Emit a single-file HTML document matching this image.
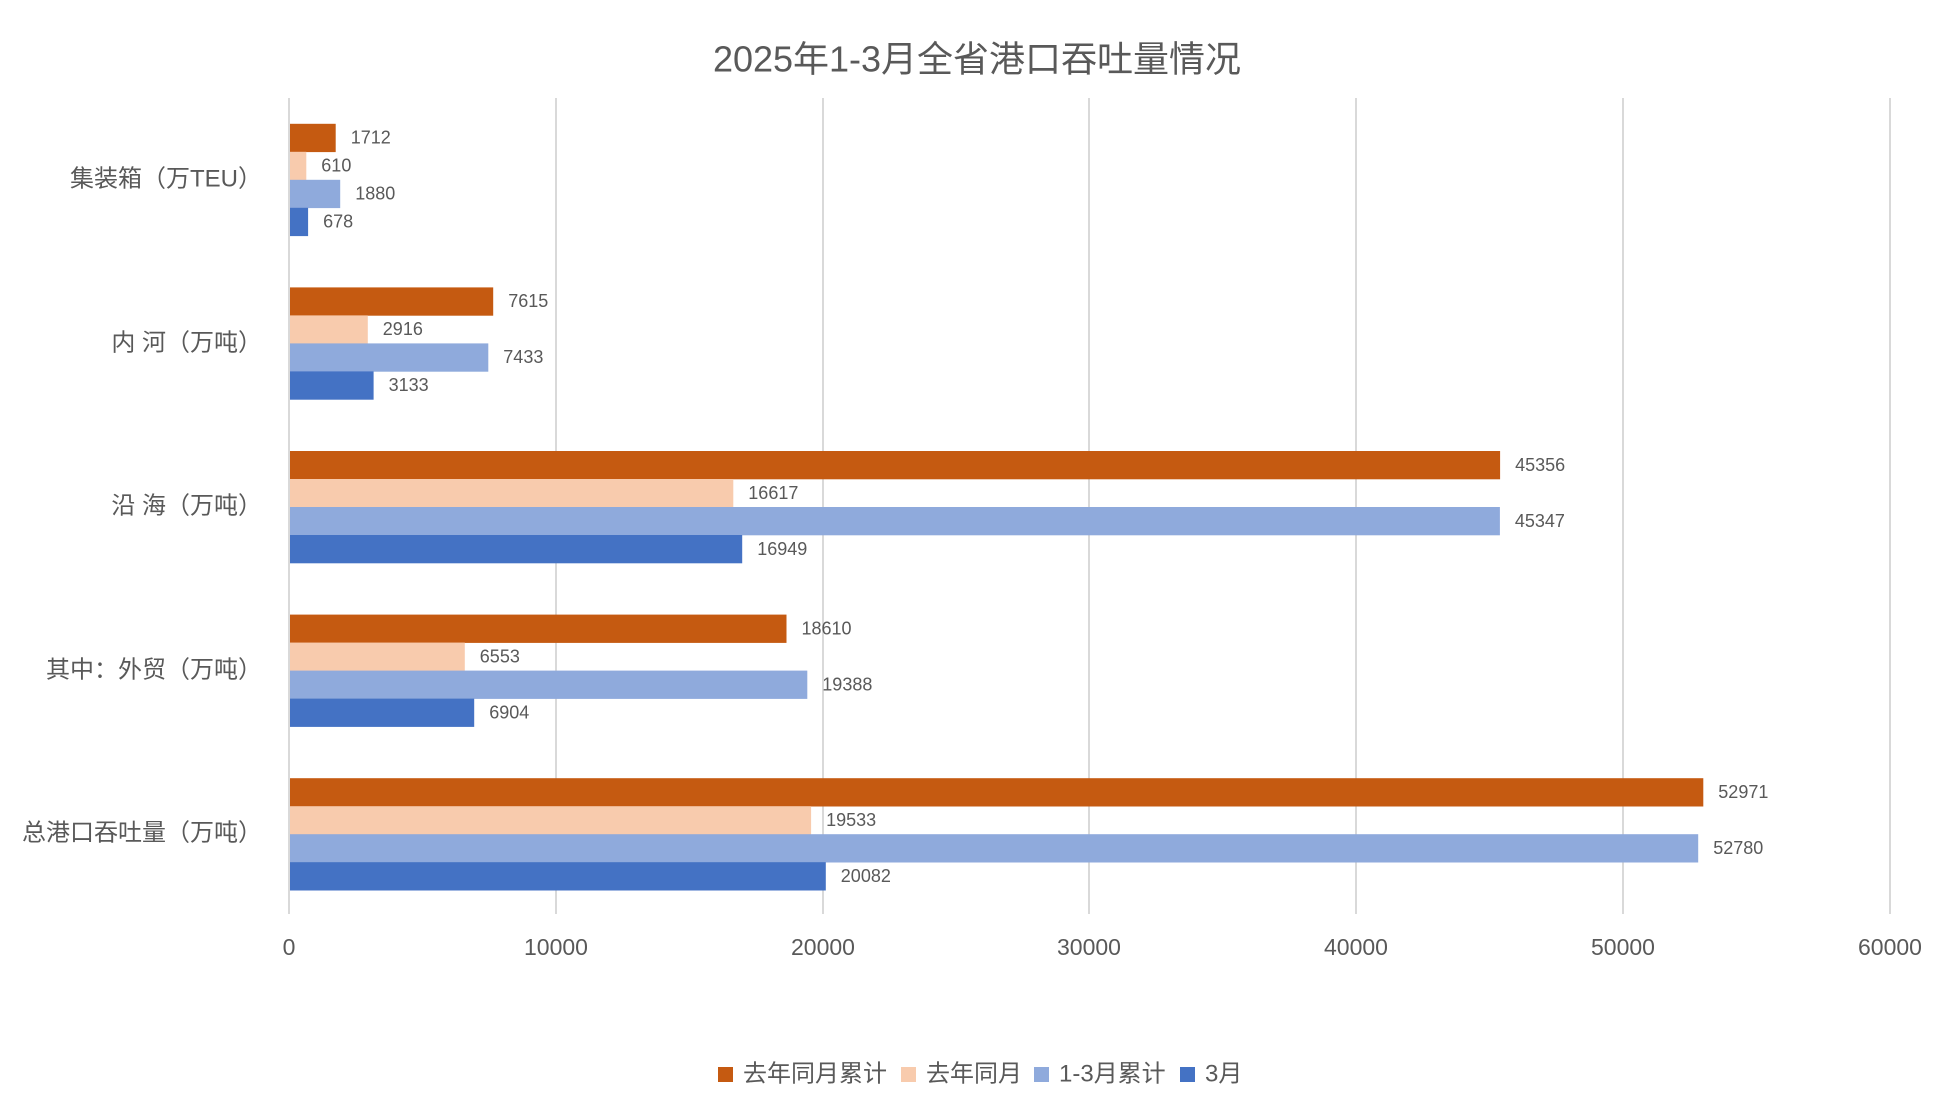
<!DOCTYPE html>
<html><head><meta charset="utf-8"><style>
html,body{margin:0;padding:0;background:#fff;}
svg{display:block;}
text{font-family:"Liberation Sans","Noto Sans CJK SC",sans-serif;fill:#595959;}
</style></head><body>
<svg width="1957" height="1109" xmlns="http://www.w3.org/2000/svg">
<rect width="1957" height="1109" fill="#fff"/>
<text x="977" y="62" font-size="36" text-anchor="middle" dominant-baseline="middle">2025年1-3月全省港口吞吐量情况</text>
<g stroke="#d9d9d9" stroke-width="2">
<line x1="289" y1="98" x2="289" y2="914"/>
<line x1="556" y1="98" x2="556" y2="914"/>
<line x1="823" y1="98" x2="823" y2="914"/>
<line x1="1089" y1="98" x2="1089" y2="914"/>
<line x1="1356" y1="98" x2="1356" y2="914"/>
<line x1="1623" y1="98" x2="1623" y2="914"/>
<line x1="1890" y1="98" x2="1890" y2="914"/>
</g>
<g font-size="23" text-anchor="middle" dominant-baseline="middle">
<text x="289" y="949">0</text><text x="556" y="949">10000</text><text x="823" y="949">20000</text>
<text x="1089" y="949">30000</text><text x="1356" y="949">40000</text><text x="1623" y="949">50000</text><text x="1890" y="949">60000</text>
</g>
<g font-size="24" text-anchor="end" dominant-baseline="middle">
<text x="262" y="180">集装箱（万TEU）</text>
<text x="262" y="344">内 河（万吨）</text>
<text x="262" y="507">沿 海（万吨）</text>
<text x="262" y="671">其中：外贸（万吨）</text>
<text x="262" y="834">总港口吞吐量（万吨）</text>
</g>
<g>
<rect x="290" y="123.8" width="45.7" height="28.3" fill="#C55A11"/>
<rect x="290" y="151.8" width="16.3" height="28.3" fill="#F8CBAD"/>
<rect x="290" y="179.8" width="50.2" height="28.3" fill="#8FAADC"/>
<rect x="290" y="207.8" width="18.1" height="28.3" fill="#4472C4"/>
<rect x="290" y="287.4" width="203.2" height="28.3" fill="#C55A11"/>
<rect x="290" y="315.4" width="77.8" height="28.3" fill="#F8CBAD"/>
<rect x="290" y="343.4" width="198.3" height="28.3" fill="#8FAADC"/>
<rect x="290" y="371.4" width="83.6" height="28.3" fill="#4472C4"/>
<rect x="290" y="451" width="1210.1" height="28.3" fill="#C55A11"/>
<rect x="290" y="479" width="443.3" height="28.3" fill="#F8CBAD"/>
<rect x="290" y="507" width="1209.9" height="28.3" fill="#8FAADC"/>
<rect x="290" y="535" width="452.2" height="28.3" fill="#4472C4"/>
<rect x="290" y="614.6" width="496.5" height="28.3" fill="#C55A11"/>
<rect x="290" y="642.6" width="174.8" height="28.3" fill="#F8CBAD"/>
<rect x="290" y="670.6" width="517.3" height="28.3" fill="#8FAADC"/>
<rect x="290" y="698.6" width="184.2" height="28.3" fill="#4472C4"/>
<rect x="290" y="778.2" width="1413.3" height="28.3" fill="#C55A11"/>
<rect x="290" y="806.2" width="521.1" height="28.3" fill="#F8CBAD"/>
<rect x="290" y="834.2" width="1408.2" height="28.3" fill="#8FAADC"/>
<rect x="290" y="862.2" width="535.8" height="28.3" fill="#4472C4"/>
</g>
<g font-size="18" dominant-baseline="middle">
<text x="350.7" y="138.8">1712</text>
<text x="321.3" y="166.8">610</text>
<text x="355.2" y="194.8">1880</text>
<text x="323.1" y="222.8">678</text>
<text x="508.2" y="302.4">7615</text>
<text x="382.8" y="330.4">2916</text>
<text x="503.3" y="358.4">7433</text>
<text x="388.6" y="386.4">3133</text>
<text x="1515.1" y="466">45356</text>
<text x="748.3" y="494">16617</text>
<text x="1514.9" y="522">45347</text>
<text x="757.2" y="550">16949</text>
<text x="801.5" y="629.6">18610</text>
<text x="479.8" y="657.6">6553</text>
<text x="822.3" y="685.6">19388</text>
<text x="489.2" y="713.6">6904</text>
<text x="1718.3" y="793.2">52971</text>
<text x="826.1" y="821.2">19533</text>
<text x="1713.2" y="849.2">52780</text>
<text x="840.8" y="877.2">20082</text>
</g>
<g font-size="24" dominant-baseline="middle">
<rect x="718" y="1067" width="15" height="15" fill="#C55A11"/><text x="743" y="1075">去年同月累计</text>
<rect x="901" y="1067" width="15" height="15" fill="#F8CBAD"/><text x="926" y="1075">去年同月</text>
<rect x="1034" y="1067" width="15" height="15" fill="#8FAADC"/><text x="1059" y="1075">1-3月累计</text>
<rect x="1180" y="1067" width="15" height="15" fill="#4472C4"/><text x="1205" y="1075">3月</text>
</g>
</svg>
</body></html>
